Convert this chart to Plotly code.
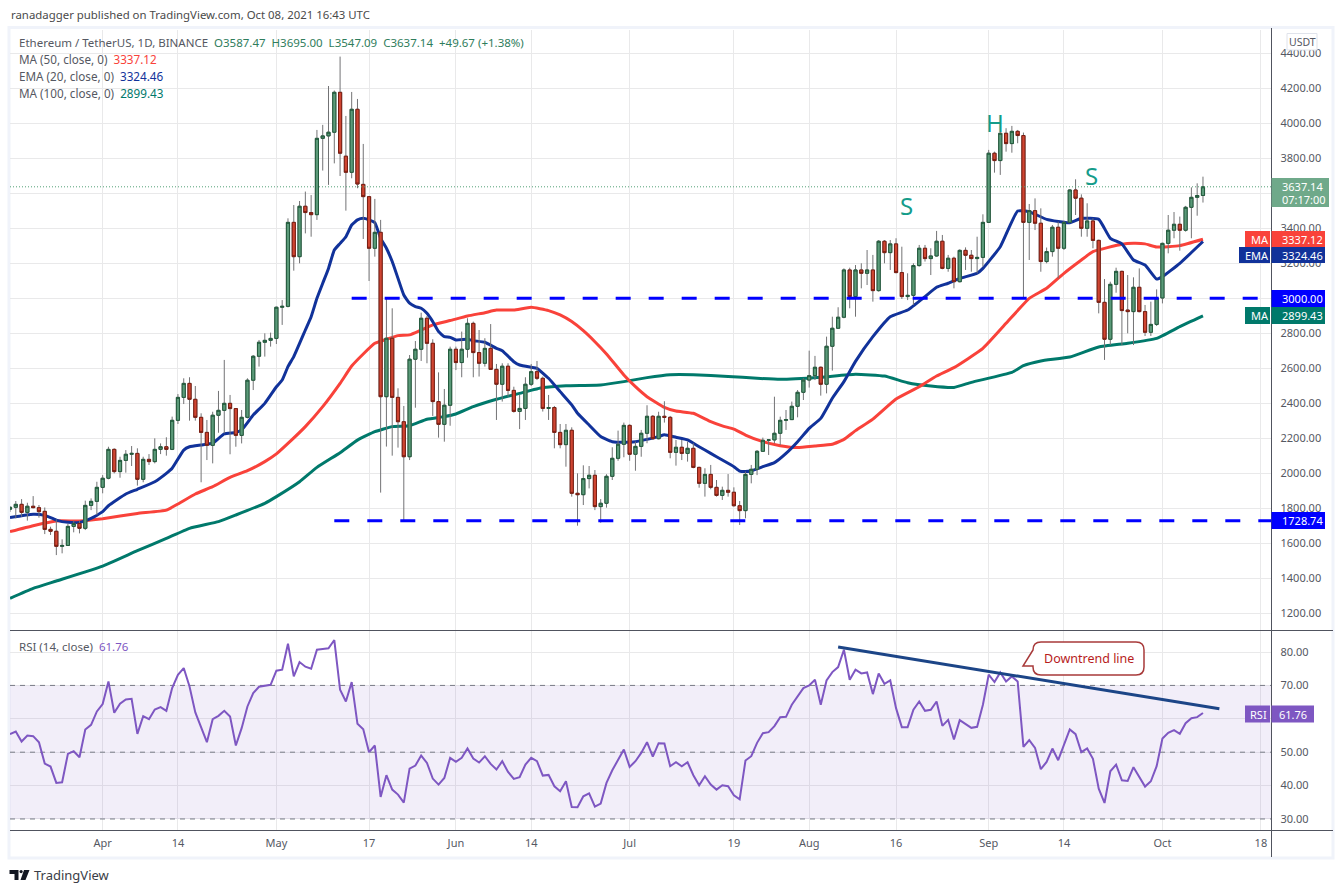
import pandas as pd
import plotly.graph_objects as go

W, H = 1343, 893
FONT = "Noto Sans"

# daily candles, 16 Mar - 8 Oct 2021
opens = [1795,1806,1823,1777,1812,1804,1783,1680,1669,1583,1588,1697,1714,1686,1817,1840,
         1920,1972,2137,2010,2074,2109,2114,1966,2080,2067,2137,2152,2137,2303,2434,2514,2423,2320,2234,2160,2332,2360,2400,2370,2217,2320,2532,2669,2749,2760,
         2771,2949,2954,3434,3238,3526,3490,3478,3914,3928,3949,4177,3812,3720,4080,3651,3581,3286,3377,2438,2772,2434,2295,2095,2652,2709,2886,2743,2410,2280,2389,
         2709,2633,2709,2857,2690,2629,2714,2594,2509,2612,2474,2354,2371,2509,2581,2543,2371,2376,2234,2164,2246,1886,1878,1970,1989,1810,1829,1983,2086,2166,
         2274,2109,2154,2229,2326,2198,2326,2320,2120,2149,2114,2143,2034,1943,1994,1920,1874,1903,1892,1815,1787,1994,2023,2126,2189,2191,2229,2303,2307,2383,2463,
         2533,2558,2606,2509,2726,2829,2892,3162,3010,3162,3143,3162,3044,3326,3261,3311,3147,3010,3017,3187,3286,3227,3242,3326,3171,3229,3095,3274,3246,3227,3234,
         3434,3829,3787,3943,3884,3954,3930,3434,3501,3429,3210,3267,3406,3286,3434,3619,3572,3400,3442,3331,2977,2766,3080,3154,2933,2924,3063,2924,2806,2851,
         3002,3314,3389,3423,3389,3520,3577,3587.47]
highs = [1812,1842,1853,1832,1870,1819,1805,1695,1737,1623,1714,1730,1730,1844,1857,1952,
         1990,2152,2143,2095,2133,2156,2143,2095,2110,2200,2171,2206,2324,2453,2543,2549,2499,2343,2305,2352,2471,2648,2448,2370,2362,2543,2676,2762,2800,2804,
         2953,2990,3457,3533,3556,3610,3590,3962,3991,4213,4187,4381,4042,4179,4139,3882,3585,3568,3448,2996,2943,2486,2385,2676,2756,2918,2899,2766,2577,2482,2724,
         2724,2810,2886,2867,2819,2772,2853,2625,2629,2629,2495,2448,2549,2625,2642,2553,2448,2385,2282,2282,2263,2000,2046,2042,2019,1853,1995,2149,2244,2290,
         2280,2181,2248,2389,2333,2352,2412,2328,2191,2191,2181,2172,2038,2029,2048,1962,1924,1996,1920,1842,2010,2048,2133,2204,2194,2438,2324,2362,2410,2476,2543,
         2701,2671,2610,2781,2895,2949,3171,3175,3190,3200,3276,3248,3333,3333,3333,3343,3295,3143,3200,3305,3305,3286,3385,3362,3248,3238,3280,3291,3276,3352,3480,
         3848,3838,3952,3972,3985,3962,3947,3539,3571,3514,3290,3419,3438,3444,3623,3680,3594,3543,3457,3335,3110,3095,3175,3158,3133,3120,3171,2962,2981,3051,
         3318,3476,3493,3467,3528,3634,3657,3695]
lows = [1780,1743,1752,1730,1800,1747,1653,1648,1533,1543,1587,1663,1657,1676,1790,1762,
        1886,1966,2000,1975,2004,2042,1930,1949,2048,2057,2110,2101,2133,2282,2396,2301,2301,1949,2076,2057,2232,2229,2109,2152,2171,2314,2476,2610,2667,2724,
        2739,2848,2948,3158,3200,3371,3352,3448,3730,3648,3771,3699,3501,3686,3629,3339,3099,3238,1890,2153,2101,2147,1729,2076,2375,2642,2629,2328,2204,2181,2272,
        2590,2549,2661,2549,2553,2610,2591,2305,2410,2438,2347,2253,2305,2499,2533,2353,2305,2143,2143,2038,1867,1701,1819,1914,1790,1718,1804,1962,2072,2092,
        2072,2015,2095,2172,2191,2194,2290,2086,2044,2076,2067,2029,1918,1867,1909,1867,1848,1867,1810,1705,1743,1943,1990,2124,2105,2172,2162,2248,2318,2320,2419,
        2490,2533,2444,2457,2587,2867,2886,2943,2895,3057,3076,2981,3038,3200,3162,3143,2996,2990,2962,3181,3210,3133,3238,3166,3152,3057,3091,3162,3152,3143,3181,
        3432,3718,3705,3838,3832,3886,3006,3219,3390,3152,3200,3238,3114,3276,3429,3476,3352,3352,3286,2914,2648,2733,3032,2733,2800,2733,2920,2785,2785,2842,
        2971,3257,3343,3272,3381,3343,3472,3547.09]
closes = [1806,1823,1777,1812,1804,1781,1680,1669,1583,1588,1697,1714,1686,1817,1840,1920,
          1972,2137,2010,2074,2109,2114,1966,2080,2067,2137,2152,2137,2303,2434,2514,2423,2320,2234,2160,2332,2360,2400,2370,2217,2320,2532,2669,2749,2760,2771,
          2949,2954,3434,3238,3526,3490,3478,3914,3928,3949,4177,3829,3720,4080,3653,3581,3286,3377,2438,2772,2434,2295,2095,2652,2709,2886,2743,2410,2280,2389,2709,
          2633,2709,2857,2690,2629,2714,2594,2509,2612,2474,2354,2371,2509,2581,2543,2371,2376,2234,2164,2246,1886,1878,1970,1989,1810,1829,1983,2086,2166,2274,
          2109,2154,2229,2326,2198,2326,2320,2120,2149,2114,2143,2034,1943,1994,1920,1874,1903,1892,1815,1787,1994,2023,2126,2189,2191,2229,2303,2307,2383,2463,2533,
          2558,2606,2509,2726,2829,2892,3162,3010,3162,3143,3162,3044,3326,3261,3311,3147,3010,3017,3187,3286,3227,3242,3326,3171,3229,3095,3274,3246,3227,3234,3434,
          3829,3787,3943,3884,3954,3930,3434,3501,3429,3210,3267,3406,3286,3434,3619,3572,3400,3442,3331,2977,2766,3080,3154,2930,2924,3063,2924,2806,2851,3002,
          3314,3389,3423,3389,3520,3577,3587.47,3637.14]
rsi = [55.4,56.2,53.2,55,54.8,53,46.6,45.7,40.8,41,49.5,50.3,48.5,56.8,58.2,62.2,
       64.4,71.2,61.8,64.5,65.8,66,55.5,60.8,59.9,62.8,63.5,62.4,69.2,73.2,75.2,69.7,61.9,57.2,53,59.9,60.9,62.4,60.7,52,57.2,63.7,67.7,69.6,69.9,70.2,
       74.4,74.7,82.5,72.7,77,75.6,75,80.7,80.9,81.1,83.6,68.7,65.2,71,58.5,56.9,50,52,36.6,43.1,38.8,37.3,34.9,45.1,46,49,46.8,42.1,40.3,42.3,48.3,
       47.1,48.3,51.1,48.1,46.9,48.8,46.5,44.8,47.3,44.1,42,42.5,46.3,48.3,47.3,43,43.2,39.8,38.3,41.3,33.6,33.5,36.8,37.7,33.7,34.6,40.8,44.6,47.8,50.8,
       45.6,47.3,49.8,53,48.7,52.7,52.6,45.8,47,45.8,47,43.1,40.1,42.8,40.3,38.8,40.1,39.8,37.1,35.9,47.5,48.8,52.8,55.7,56,57.8,60.5,60.6,64.2,66.9,69.2,
       70,71.7,64.2,71.5,74,75.5,80.7,71.7,74.7,73.6,73.9,67.4,73.6,70.5,71.5,63.2,57.5,57.5,62.7,65.2,62.4,62.7,65.2,57.9,59.7,53.8,59.6,58.4,57.3,57.6,64.2,
       73.2,71,73.9,71.2,72.7,71.2,51.6,53.6,51.3,44.9,47.1,51.1,47.6,52.1,56.8,55.4,50,51.1,48,39.1,34.8,44.3,46.3,41.6,41.4,45.5,42.6,39.7,41.3,45.8,
       54.1,55.8,56.6,55.5,58.7,60.2,60.5,61.76]
dates = pd.date_range("2021-03-16", periods=len(closes), freq="D")

ema_dates = ["03-16","03-20","03-22","03-24","03-26","03-28","03-30","04-01","04-02","04-05","04-07","04-10","04-12","04-13","04-15","04-16","04-18","04-20","04-22","04-24","04-25","04-27","04-29",
             "05-01","05-02","05-03","05-04","05-06","05-07","05-08","05-09","05-10","05-11","05-12","05-13","05-14","05-15","05-16","05-17","05-18","05-19","05-20","05-21","05-22","05-23","05-24","05-25","05-26","05-27","05-28","05-29","05-30","05-31",
             "06-01","06-03","06-04","06-06","06-08","06-09","06-11","06-12","06-14","06-15","06-17","06-19","06-21","06-22","06-24","06-26","06-28","06-30",
             "07-02","07-04","07-06","07-07","07-09","07-11","07-13","07-15","07-17","07-19","07-20","07-21","07-22","07-24","07-26","07-28","07-30",
             "08-01","08-03","08-05","08-07","08-09","08-12","08-15","08-18","08-21","08-23","08-25","08-27","08-30","08-31",
             "09-03","09-06","09-08","09-11","09-15","09-17","09-20","09-22","09-24","09-26","09-28","09-30","10-01","10-04","10-08"]
ema_vals = [1747,1766,1760,1733,1720,1720,1743,1781,1815,1882,1909,1952,2000,2029,2133,2152,2162,2172,2225,2233,2248,2333,2400,
            2495,2533,2610,2667,2819,2895,3000,3086,3171,3276,3314,3352,3419,3448,3457,3448,3432,3343,3286,3210,3114,3019,2972,2953,2943,2914,2867,2810,2781,2777,
            2762,2766,2758,2749,2714,2701,2638,2619,2606,2600,2543,2467,2391,2343,2276,2210,2181,2177,
            2181,2194,2210,2221,2206,2191,2152,2114,2076,2038,2013,2010,2015,2038,2061,2114,2181,
            2257,2314,2429,2524,2640,2781,2895,2933,3010,3063,3086,3114,3143,3171,
            3295,3499,3495,3451,3432,3457,3451,3343,3311,3219,3190,3110,3124,3200,3324.46]

ma50_dates = ["03-16","03-20","03-24","03-28","04-01","04-07","04-12","04-14","04-17","04-20","04-23","04-26","04-29","05-01","05-03","05-06","05-09","05-12","05-14","05-16","05-18","05-20","05-22","05-24","05-26","05-28","05-31",
              "06-03","06-06","06-08","06-11","06-14","06-17","06-19","06-21","06-23","06-25","06-27","06-30","07-02","07-04","07-07","07-09","07-12","07-15","07-17","07-19","07-21","07-24","07-27","07-30",
              "08-02","08-05","08-07","08-09","08-12","08-16","08-20","08-23","08-26","08-31","09-04","09-08","09-11","09-14","09-17","09-19","09-24","09-26","09-28","09-30","10-04","10-08"]
ma50_vals = [1667,1701,1728,1728,1741,1771,1790,1825,1882,1924,1977,2015,2067,2111,2171,2267,2381,2514,2613,2682,2743,2766,2787,2791,2819,2848,2873,
             2899,2918,2933,2933,2949,2930,2905,2867,2815,2752,2682,2562,2495,2438,2377,2356,2343,2295,2271,2253,2219,2181,2158,2147,
             2156,2166,2194,2244,2310,2425,2495,2556,2604,2714,2857,3000,3057,3143,3219,3267,3309,3314,3311,3293,3301,3337.12]

ma100_dates = ["03-16","03-20","03-24","04-01","04-07","04-12","04-16","04-21","04-24","04-29","05-01","05-05","05-08","05-12","05-15","05-18","05-21","05-24","05-27","05-30",
               "06-01","06-04","06-08","06-12","06-16","06-20","06-26","06-30","07-04","07-08","07-12","07-18","07-23","07-27","08-03","08-09","08-14","08-18","08-22","08-26","08-29",
               "09-05","09-07","09-10","09-15","09-20","09-25","09-30","10-04","10-08"]
ma100_vals = [1286,1343,1385,1470,1558,1628,1686,1724,1762,1829,1867,1952,2034,2118,2190,2238,2267,2272,2309,2324,
              2339,2381,2423,2457,2490,2501,2505,2524,2547,2564,2564,2554,2543,2537,2549,2566,2556,2518,2499,2491,2520,
              2577,2615,2642,2665,2722,2743,2771,2838,2899.43]

price_ticks = list(range(1200, 4401, 200))
price_hidden = [3000, 3600]   # covered by the value labels on the scale
price_labels = ["" if t in price_hidden else f"{t}.00" for t in price_ticks]
rsi_ticks = [30, 40, 50, 60, 70, 80]
rsi_labels = ["30.00", "40.00", "50.00", "", "70.00", "80.00"]
time_ticks = ["2021-04-01","2021-04-14","2021-05-01","2021-05-17","2021-06-01","2021-06-14","2021-07-01","2021-07-19","2021-08-01","2021-08-16","2021-09-01","2021-09-14","2021-10-01","2021-10-18"]
time_labels = ["Apr","14","May","17","Jun","14","Jul","19","Aug","16","Sep","14","Oct","18"]

support = 1728.74
neckline = 3000
trend_dates = ["2021-08-06", "2021-10-10 20:00"]
trend_rsi = [81.5, 63]

GRID = "#e9e9ea"
TEXT = "#555862"
RED_LINE, BLUE_LINE, TEAL_LINE = "#f9423a", "#11329a", "#00796b"
X_RANGE = ["2021-03-16", "2021-10-19 20:00"]
Y_RANGE = [1105, 4533]
RSI_RANGE = [26.7, 86.3]
AX_X = 1271.5
LBL_X = 1281


def px(x):
    return x / W


def py(y):
    return 1 - y / H


def full(days):
    return ["2021-" + d for d in days]


fig = go.Figure()

for d, v, c in [(ma100_dates, ma100_vals, TEAL_LINE), (ma50_dates, ma50_vals, RED_LINE), (ema_dates, ema_vals, BLUE_LINE)]:
    fig.add_trace(go.Scatter(x=full(d), y=v, mode="lines", line=dict(color=c, width=3, shape="spline", smoothing=0.4),
                             xaxis="x", yaxis="y", showlegend=False, hoverinfo="skip"))

# wicks first in grey, bodies over them with their own border colour
fig.add_trace(go.Candlestick(x=dates, open=opens, high=highs, low=lows, close=closes, xaxis="x3", yaxis="y3",
                             whiskerwidth=0, showlegend=False,
                             increasing=dict(line=dict(color="#737375", width=1), fillcolor="#5b9a79"),
                             decreasing=dict(line=dict(color="#737375", width=1), fillcolor="#cf4532")))
body_hi = [max(o, c) for o, c in zip(opens, closes)]
body_lo = [min(o, c) for o, c in zip(opens, closes)]
fig.add_trace(go.Candlestick(x=dates, open=opens, high=body_hi, low=body_lo, close=closes, xaxis="x3", yaxis="y3",
                             whiskerwidth=0, showlegend=False,
                             increasing=dict(line=dict(color="#225a3c", width=1), fillcolor="#5b9a79"),
                             decreasing=dict(line=dict(color="#7a1e12", width=1), fillcolor="#cf4532")))

fig.add_trace(go.Scatter(x=dates, y=rsi, mode="lines", line=dict(color="#7e57c2", width=2),
                         xaxis="x2", yaxis="y2", showlegend=False, hoverinfo="skip"))
fig.add_trace(go.Scatter(x=trend_dates, y=trend_rsi, mode="lines", line=dict(color="#1c4587", width=3),
                         xaxis="x2", yaxis="y2", showlegend=False, hoverinfo="skip"))

shapes = []
annos = []


def paper_rect(x0, y0, x1, y1, fill, line=None, width=0, layer="above"):
    shapes.append(dict(type="rect", xref="paper", yref="paper", x0=px(x0), x1=px(x1), y0=py(y0), y1=py(y1),
                       fillcolor=fill, line=dict(color=line or fill, width=width), layer=layer))


def paper_line(x0, y0, x1, y1, color, width=1, layer="above"):
    shapes.append(dict(type="line", xref="paper", yref="paper", x0=px(x0), x1=px(x1), y0=py(y0), y1=py(y1),
                       line=dict(color=color, width=width), layer=layer))


def label(x, y, text, color=TEXT, size=11, anchor="left", family=FONT):
    annos.append(dict(xref="paper", yref="paper", x=px(x), y=py(y), text=text, showarrow=False, xanchor=anchor,
                      yanchor="middle", font=dict(family=family, size=size, color=color), borderpad=0))


# outer frame and pane separators
shapes.append(dict(type="rect", xref="paper", yref="paper", x0=px(9), x1=px(1333), y0=py(27.5), y1=py(858),
                   line=dict(color="#f0f3fa", width=3), layer="below"))
paper_line(AX_X, 28, AX_X, 857, "#50535e")
paper_line(10, 630.5, 1333, 630.5, "#50535e")
paper_line(10, 830.5, 1333, 830.5, "#50535e")

# RSI band, above the grid but under the line
shapes.append(dict(type="rect", xref="x2", yref="y2", x0=X_RANGE[0], x1=X_RANGE[1], y0=30, y1=70,
                   fillcolor="rgba(126,87,194,0.1)", line=dict(width=0), layer="between"))
for lvl in [30, 50, 70]:
    shapes.append(dict(type="line", xref="x2", yref="y2", x0=X_RANGE[0], x1=X_RANGE[1], y0=lvl, y1=lvl,
                       line=dict(color="#787b86", width=1, dash="5px,5px"), layer="between"))

# horizontal levels
shapes.append(dict(type="line", xref="x3", yref="y3", x0="2021-05-14", x1="2021-10-18", y0=neckline, y1=neckline,
                   line=dict(color="#0000ff", width=3, dash="15px,18px"), layer="above"))
shapes.append(dict(type="line", xref="x3", yref="y3", x0="2021-05-11", x1=X_RANGE[1], y0=support, y1=support,
                   line=dict(color="#0000ff", width=3, dash="15px,18px"), layer="above"))
# last price dotted
shapes.append(dict(type="line", xref="paper", yref="y3", x0=px(10), x1=px(AX_X), y0=closes[-1], y1=closes[-1],
                   line=dict(color="#53a077", width=1, dash="1px,2px"), layer="above"))

# price scale labels
paper_rect(AX_X, 178, 1329, 207, "#6fa98a")
label(LBL_X, 186.5, "3637.14", "#ffffff")
label(LBL_X, 199.5, "07:17:00", "#ffffff")
for x0, x_txt, y0, y1, fill, name, val in [(1245, 1250, 231, 248, RED_LINE, "MA", "3337.12"),
                                           (1239, 1244, 247, 263, BLUE_LINE, "EMA", "3324.46"),
                                           (1245, 1250, 307, 324, TEAL_LINE, "MA", "2899.43")]:
    paper_rect(x0, y0, AX_X - 1.5, y1, fill)
    paper_rect(AX_X, y0, 1325, y1, fill)
    label(x_txt, (y0 + y1) / 2, name, "#ffffff")
    label(LBL_X, (y0 + y1) / 2, val, "#ffffff")
paper_rect(AX_X, 290, 1325, 307, "#0000ff")
label(LBL_X, 298.5, "3000.00", "#ffffff")
paper_rect(AX_X, 512, 1325, 529, "#0000ff")
label(LBL_X, 520.5, "1728.74", "#ffffff")
paper_rect(1245, 705.5, 1270, 722.5, "#7e57c2")
paper_rect(AX_X, 705.5, 1314, 722.5, "#7e57c2")
label(1249, 714, "RSI", "#ffffff")
label(1278, 714, "61.76", "#ffffff")
shapes.append(dict(type="rect", xref="paper", yref="paper", x0=px(1287), x1=px(1317), y0=py(33.5), y1=py(50),
                   fillcolor="#ffffff", line=dict(color="#e0e3eb", width=1), layer="above"))
label(1302, 42, "USDT", TEXT, 10.5, "center")

# header text
label(10, 15, "ranadagger published on TradingView.com, Oct 08, 2021 16:43 UTC", "#4a4a4a", 11.4)
green = "#2f7d5c"
label(18, 42, "Ethereum / TetherUS, 1D, BINANCE&nbsp;&nbsp;<span style='color:%s'>O3587.47&nbsp;&nbsp;H3695.00&nbsp;&nbsp;L3547.09&nbsp;&nbsp;C3637.14&nbsp;&nbsp;+49.67 (+1.38%%)</span>" % green, TEXT, 11.5)
label(18, 59, "MA (50, close, 0)&nbsp;&nbsp;<span style='color:%s'>3337.12</span>" % RED_LINE, TEXT, 11.7)
label(18, 76, "EMA (20, close, 0)&nbsp;&nbsp;<span style='color:%s'>3324.46</span>" % BLUE_LINE, TEXT, 11.7)
label(18, 93, "MA (100, close, 0)&nbsp;&nbsp;<span style='color:%s'>2899.43</span>" % TEAL_LINE, TEXT, 11.7)
label(18, 646, "RSI (14, close)&nbsp;&nbsp;<span style='color:#7e57c2'>61.76</span>", TEXT, 11.5)

# pattern letters
label(906, 205, "S", "#159c8a", 24, "center")
label(995, 122, "H", "#159c8a", 24, "center")
label(1091, 176, "S", "#159c8a", 24, "center")

# callout
x0, x1, y0, y1, r = 1033, 1144, 642, 675, 8
path = (f"M {px(x0)} {py(y0 + r)} Q {px(x0)} {py(y0)} {px(x0 + r)} {py(y0)} L {px(x1 - r)} {py(y0)} "
        f"Q {px(x1)} {py(y0)} {px(x1)} {py(y0 + r)} L {px(x1)} {py(y1 - r)} Q {px(x1)} {py(y1)} {px(x1 - r)} {py(y1)} "
        f"L {px(x0 + r)} {py(y1)} Q {px(x0)} {py(y1)} {px(x0)} {py(y1 - r)} L {px(x0)} {py(666)} L {px(1023)} {py(666)} Z")
shapes.append(dict(type="path", xref="paper", yref="paper", path=path, fillcolor="#ffffff",
                   line=dict(color="#a83a3a", width=1.5), layer="above"))
label((x0 + x1) / 2, 658.5, "Downtrend line", "#b71c1c", 12.5, "center")

# footer logo
logo = (f"M {px(9.5)} {py(870)} L {px(18.5)} {py(870)} L {px(18.5)} {py(880)} L {px(14.5)} {py(880)} "
        f"L {px(14.5)} {py(874)} L {px(9.5)} {py(874)} Z "
        f"M {px(24)} {py(870)} L {px(29.5)} {py(870)} L {px(25.5)} {py(880)} L {px(20.5)} {py(880)} Z")
shapes.append(dict(type="path", xref="paper", yref="paper", path=logo, fillcolor="#131722", line=dict(width=0), layer="above"))
shapes.append(dict(type="circle", xref="paper", yref="paper", x0=px(19.5), x1=px(22.7), y0=py(870), y1=py(873.2),
                   fillcolor="#131722", line=dict(width=0), layer="above"))
label(33, 875, "TradingView", "#3a3d46", 13)

main_dom = [py(630), py(30)]
rsi_dom = [py(830), py(631)]
x_dom = [px(10), px(AX_X)]

tick_font = dict(family=FONT, size=11, color=TEXT)
fig.update_layout(
    width=W, height=H, margin=dict(l=0, r=0, t=0, b=0),
    paper_bgcolor="#ffffff", plot_bgcolor="#ffffff", showlegend=False, boxgap=0.22,
    shapes=shapes, annotations=annos,
    xaxis=dict(domain=x_dom, range=X_RANGE, type="date", anchor="y", tickvals=time_ticks, showticklabels=False,
               gridcolor=GRID, gridwidth=1, zeroline=False, showline=False, ticks=""),
    yaxis=dict(domain=main_dom, range=Y_RANGE, anchor="x", side="right", tickvals=price_ticks, ticktext=price_labels,
               gridcolor=GRID, gridwidth=1, zeroline=False, tickfont=tick_font, ticks="", ticklabelstandoff=8),
    xaxis2=dict(domain=x_dom, range=X_RANGE, type="date", anchor="y2", tickvals=time_ticks, ticktext=time_labels,
                gridcolor=GRID, gridwidth=1, zeroline=False, tickfont=tick_font, ticks="", ticklabelstandoff=5),
    yaxis2=dict(domain=rsi_dom, range=RSI_RANGE, anchor="x2", side="right", tickvals=rsi_ticks, ticktext=rsi_labels,
                gridcolor=GRID, gridwidth=1, zeroline=False, tickfont=tick_font, ticks="", ticklabelstandoff=8),
    xaxis3=dict(domain=x_dom, range=X_RANGE, type="date", anchor="y3", overlaying="x", visible=False,
                rangeslider=dict(visible=False)),
    yaxis3=dict(domain=main_dom, range=Y_RANGE, anchor="x3", overlaying="y", visible=False),
)

fig.write_html("out.html", config={"displayModeBar": False},
               post_script="document.body.style.margin='0';document.body.style.overflow='hidden';")
